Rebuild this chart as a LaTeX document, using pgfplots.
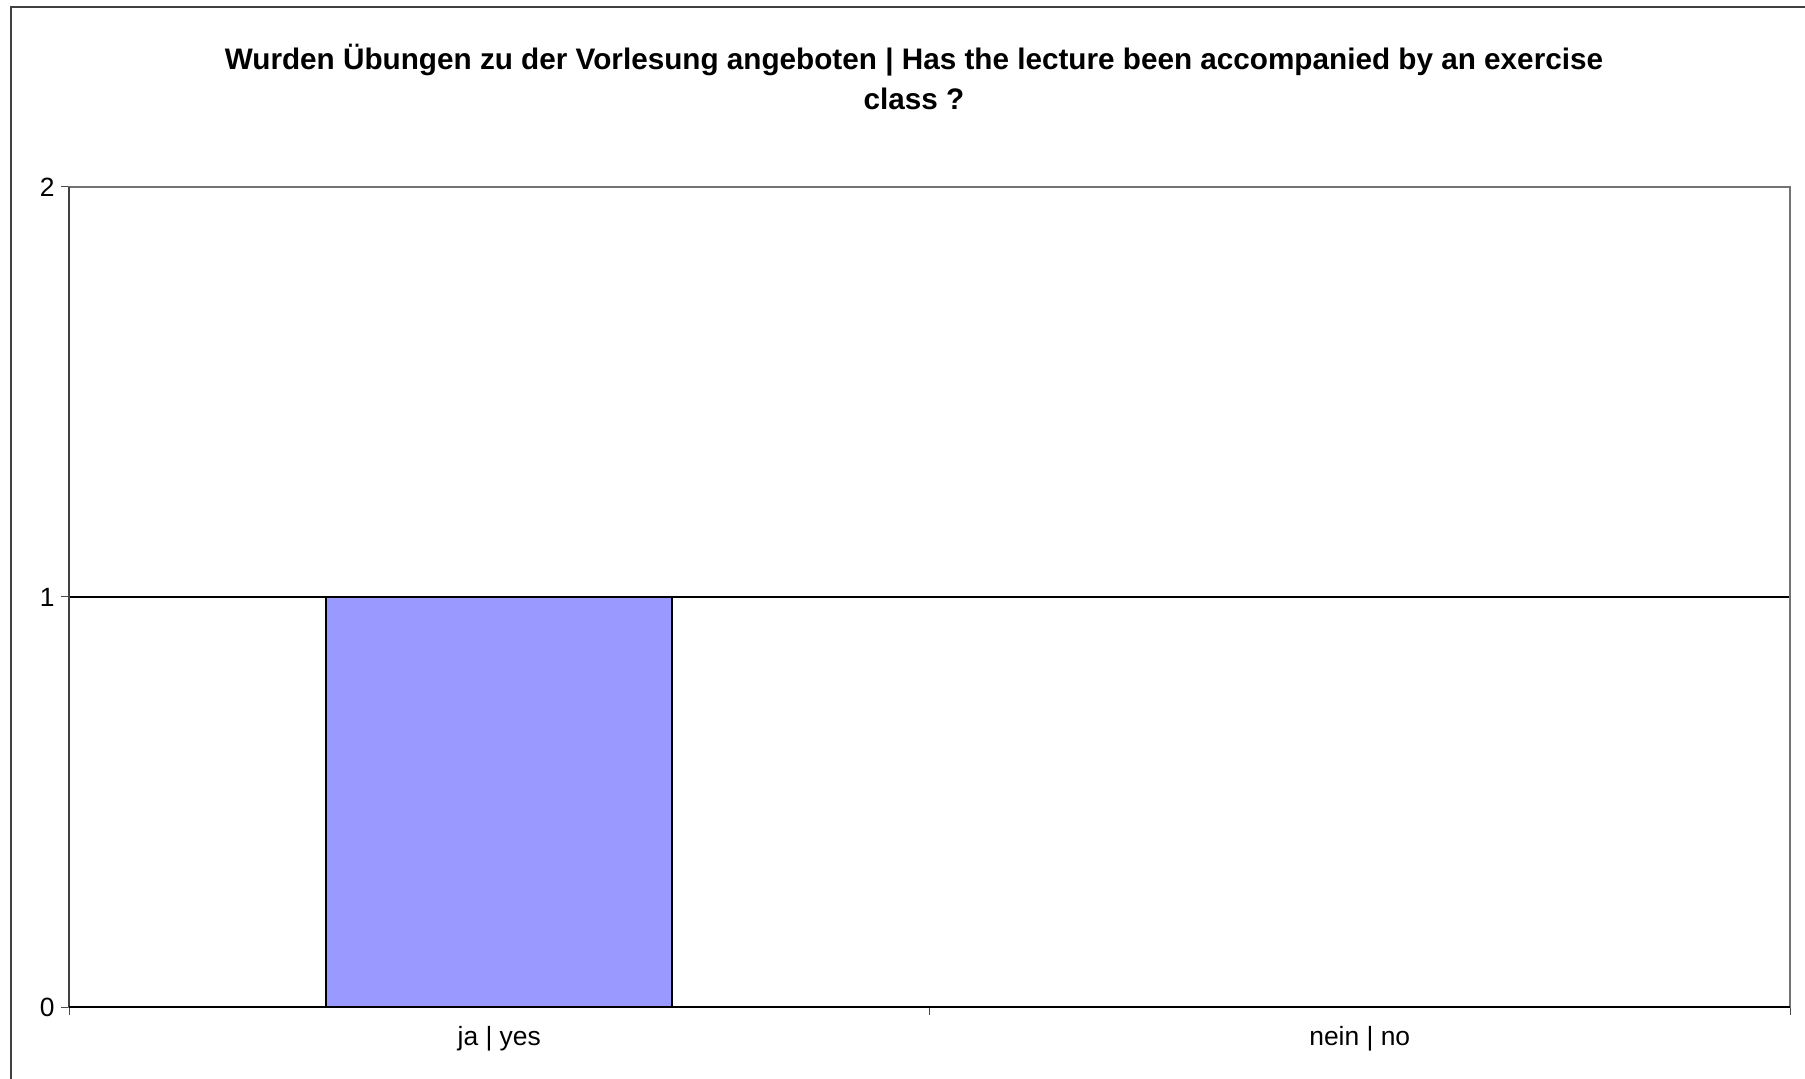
\documentclass[border=0pt]{standalone}
\usepackage{pgfplots}
\pgfplotsset{compat=1.18}
\usepackage{fontspec}
\setmainfont{Liberation Sans}
\definecolor{barblue}{HTML}{9999FF}
\begin{document}
\begin{tikzpicture}[x=1bp,y=1bp]
\path[use as bounding box] (0,0) rectangle (1805,1078);
\draw[line width=1.5bp, black!75] (11,-5) -- (11,1071) -- (1810,1071);
\node[font=\fontsize{29.8}{40}\selectfont\bfseries, align=center] at (914,1001)
  {Wurden Übungen zu der Vorlesung angeboten | Has the lecture been accompanied by an exercise\\class ?};
\begin{axis}[
  at={(69bp,71bp)}, anchor=south west,
  scale only axis, width=1721bp, height=820bp,
  xmin=0, xmax=2, ymin=0, ymax=2,
  xtick={0.5,1.5},
  xticklabels={ja | yes, nein | no},
  major x tick style={draw=none},
  minor xtick={0,1,2},
  ytick={0,1,2},
  xtick pos=bottom, ytick pos=left,
  tick align=outside,
  major tick length=8bp, minor tick length=8bp,
  tick style={line width=1bp, black!70},
  ymajorgrids,
  major grid style={line width=1.2bp, black},
  axis line style={line width=1.5bp, black!55},
  tick label style={font=\fontsize{26.5}{30}\selectfont},
  /pgf/number format/assume math mode=true,
  yticklabel style={xshift=-3bp},
  xticklabel style={yshift=-8bp},
]
\addplot[ybar, bar width=0.402, fill=barblue, draw=black, line width=2bp] coordinates {(0.5,1) (1.5,0)};
\end{axis}
\draw[line width=2.5bp, black!75] (69,71) -- (69,891);
\draw[line width=1.5bp, black] (69,71) -- (1790,71);
\end{tikzpicture}
\end{document}
